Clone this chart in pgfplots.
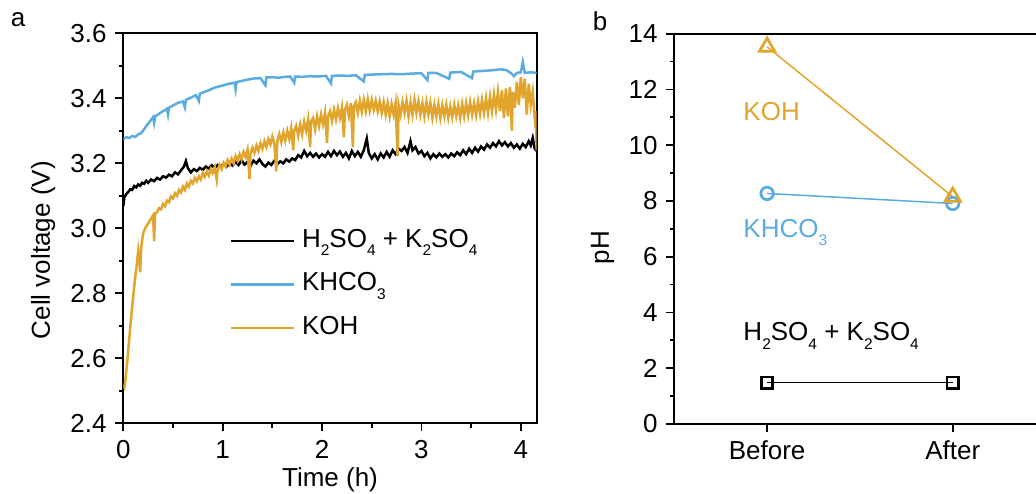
\documentclass[border=0pt]{standalone}
\usepackage{fontspec}
\setmainfont{Liberation Sans}
\usepackage{pgfplots}
\pgfplotsset{compat=1.18}
\definecolor{kohc}{HTML}{E1A42D}
\definecolor{khcoc}{HTML}{5AACE0}

\newcommand{\fs}{\fontsize{10.4}{12.5}\selectfont}
% subscripts set low and small, as in the figure
\newcommand{\sub}[1]{\raisebox{-3.4pt}{\fontsize{6.2}{7}\selectfont #1}}

\pgfplotsset{
  panel/.style={
    scale only axis,
    axis line style={line width=0.7pt},
    tick style={line width=0.7pt, black},
    tick align=outside,
    tick pos=left,
    major tick length=3.2pt,
    minor tick length=1.8pt,
    tick label style={font=\fs},
    label style={font=\fs},
    /pgf/number format/assume math mode=true,
  },
}

\begin{document}
\begin{tikzpicture}

% ---------- a ----------
\begin{axis}[panel,
  at={(49.32pt,-13.32pt)}, anchor=north west,
  width=165.36pt, height=156pt,
  xmin=0, xmax=4.16, ymin=2.4, ymax=3.6,
  xtick={0,1,2,3,4},
  ytick={2.4,2.6,2.8,3.0,3.2,3.4,3.6},
  minor x tick num=1, minor y tick num=1,
  yticklabel style={/pgf/number format/.cd, fixed, fixed zerofill, precision=1},
  xlabel={Time (h)}, ylabel={Cell voltage (V)},
  xlabel style={at={(axis description cs:0.5,-0.145)}, anchor=center},
  ylabel style={at={(axis description cs:-0.194,0.444)}, anchor=center},
  legend cell align=left,
  legend image code/.code={\draw[#1] (0pt,0pt) -- (25pt,0pt);},
  legend style={draw=none, fill=none, font=\fs, inner sep=0pt,
    at={(axis description cs:0.257,0.501)}, anchor=north west,
    row sep=7.4pt, column sep=2.8pt,
    nodes={inner sep=0pt, text height=7.6pt, text depth=2.4pt}},
]
\addplot[black, line width=1pt] table {
0.00 3.068
0.01 3.095
0.03 3.105
0.05 3.112
0.07 3.120
0.09 3.118
0.11 3.130
0.13 3.126
0.15 3.135
0.17 3.131
0.19 3.140
0.21 3.137
0.23 3.146
0.25 3.140
0.28 3.150
0.31 3.145
0.34 3.155
0.37 3.150
0.40 3.160
0.43 3.156
0.46 3.165
0.49 3.160
0.52 3.172
0.55 3.166
0.58 3.178
0.61 3.190
0.63 3.207
0.65 3.185
0.68 3.172
0.71 3.182
0.74 3.176
0.77 3.186
0.80 3.180
0.83 3.190
0.86 3.184
0.89 3.194
0.92 3.186
0.95 3.195
0.98 3.188
1.01 3.198
1.04 3.190
1.07 3.200
1.10 3.193
1.13 3.205
1.16 3.195
1.19 3.210
1.22 3.196
1.25 3.204
1.28 3.192
1.31 3.208
1.34 3.200
1.37 3.212
1.40 3.198
1.43 3.190
1.46 3.202
1.49 3.195
1.52 3.208
1.55 3.198
1.58 3.206
1.61 3.200
1.64 3.212
1.67 3.205
1.70 3.215
1.73 3.210
1.76 3.225
1.79 3.218
1.82 3.238
1.85 3.222
1.88 3.232
1.91 3.220
1.94 3.230
1.97 3.218
2.00 3.228
2.03 3.220
2.06 3.235
2.09 3.222
2.12 3.238
2.15 3.225
2.18 3.236
2.21 3.220
2.24 3.232
2.27 3.215
2.30 3.238
2.33 3.222
2.36 3.235
2.39 3.220
2.42 3.240
2.45 3.276
2.47 3.232
2.50 3.215
2.53 3.228
2.56 3.212
2.59 3.230
2.62 3.218
2.65 3.235
2.68 3.220
2.71 3.240
2.74 3.228
2.77 3.245
2.80 3.238
2.83 3.250
2.86 3.232
2.89 3.268
2.91 3.240
2.94 3.250
2.97 3.230
3.00 3.238
3.03 3.222
3.06 3.232
3.09 3.215
3.12 3.228
3.15 3.218
3.18 3.230
3.21 3.220
3.24 3.228
3.27 3.218
3.30 3.230
3.33 3.222
3.36 3.234
3.39 3.225
3.42 3.240
3.45 3.228
3.48 3.245
3.51 3.232
3.54 3.248
3.57 3.236
3.60 3.252
3.63 3.242
3.66 3.258
3.69 3.248
3.72 3.262
3.75 3.252
3.78 3.268
3.81 3.255
3.84 3.265
3.87 3.252
3.90 3.262
3.93 3.248
3.96 3.258
3.99 3.245
4.02 3.260
4.05 3.250
4.08 3.268
4.10 3.255
4.12 3.278
4.14 3.245
4.16 3.238
};
\addlegendentry{H\sub{2}SO\sub{4} + K\sub{2}SO\sub{4}}
\addplot[khcoc, line width=1pt] table {
0.00 3.275
0.03 3.280
0.06 3.278
0.09 3.284
0.12 3.281
0.15 3.289
0.18 3.293
0.21 3.305
0.24 3.318
0.27 3.330
0.30 3.342
0.31 3.325
0.32 3.345
0.35 3.350
0.38 3.357
0.41 3.362
0.44 3.368
0.45 3.350
0.46 3.371
0.50 3.378
0.55 3.386
0.60 3.390
0.62 3.372
0.63 3.395
0.68 3.402
0.73 3.410
0.76 3.392
0.77 3.414
0.82 3.420
0.87 3.426
0.92 3.433
0.97 3.437
1.02 3.441
1.07 3.445
1.12 3.448
1.13 3.428
1.14 3.450
1.20 3.454
1.26 3.458
1.32 3.461
1.38 3.462
1.43 3.440
1.44 3.464
1.50 3.465
1.56 3.463
1.62 3.466
1.68 3.467
1.72 3.448
1.73 3.467
1.80 3.466
1.88 3.468
1.96 3.467
2.04 3.469
2.09 3.446
2.10 3.469
2.18 3.470
2.26 3.469
2.34 3.471
2.42 3.452
2.43 3.472
2.50 3.473
2.60 3.474
2.70 3.475
2.80 3.474
2.90 3.476
3.00 3.477
3.06 3.456
3.07 3.478
3.15 3.478
3.28 3.460
3.29 3.479
3.40 3.481
3.51 3.462
3.52 3.482
3.60 3.484
3.70 3.486
3.80 3.489
3.85 3.487
3.90 3.478
3.93 3.468
3.96 3.478
4.00 3.480
4.02 3.512
4.04 3.478
4.10 3.480
4.16 3.478
};
\addlegendentry{KHCO\sub{3}}
\addplot[kohc, line width=1pt] table {
0.00 2.515
0.01 2.510
0.02 2.530
0.04 2.590
0.06 2.660
0.08 2.730
0.10 2.790
0.12 2.850
0.14 2.900
0.15 2.930
0.16 2.900
0.17 2.865
0.18 2.940
0.20 2.985
0.22 3.000
0.24 3.010
0.26 3.020
0.28 3.030
0.30 3.040
0.31 2.960
0.32 3.045
0.34 3.050
0.36 3.062
0.38 3.058
0.40 3.075
0.42 3.068
0.44 3.085
0.46 3.080
0.48 3.098
0.50 3.092
0.52 3.108
0.54 3.100
0.56 3.118
0.58 3.110
0.60 3.128
0.62 3.118
0.64 3.138
0.66 3.128
0.68 3.146
0.70 3.138
0.72 3.155
0.74 3.145
0.76 3.160
0.78 3.150
0.80 3.170
0.82 3.158
0.84 3.175
0.86 3.162
0.88 3.182
0.90 3.170
0.92 3.188
0.94 3.150
0.95 3.180
0.97 3.195
0.99 3.182
1.01 3.202
1.03 3.190
1.05 3.210
1.07 3.196
1.09 3.215
1.11 3.200
1.13 3.222
1.15 3.208
1.17 3.228
1.19 3.212
1.21 3.235
1.23 3.220
1.25 3.242
1.27 3.152
1.28 3.230
1.30 3.248
1.32 3.232
1.34 3.255
1.36 3.238
1.38 3.262
1.40 3.245
1.42 3.268
1.44 3.250
1.46 3.275
1.48 3.258
1.50 3.282
1.52 3.260
1.54 3.175
1.55 3.270
1.57 3.290
1.59 3.265
1.61 3.295
1.63 3.270
1.65 3.300
1.67 3.275
1.69 3.308
1.71 3.240
1.72 3.300
1.74 3.315
1.76 3.285
1.78 3.320
1.80 3.290
1.82 3.328
1.84 3.300
1.86 3.335
1.88 3.250
1.89 3.330
1.91 3.340
1.93 3.305
1.95 3.345
1.97 3.315
1.99 3.350
2.01 3.320
2.03 3.355
2.05 3.262
2.06 3.345
2.08 3.360
2.10 3.330
2.12 3.365
2.14 3.335
2.16 3.370
2.18 3.340
2.20 3.372
2.22 3.280
2.23 3.365
2.25 3.380
2.27 3.345
2.29 3.385
2.31 3.250
2.32 3.375
2.34 3.388
2.36 3.355
2.38 3.392
2.40 3.358
2.42 3.395
2.44 3.360
2.46 3.398
2.48 3.362
2.50 3.395
2.52 3.365
2.54 3.392
2.56 3.360
2.58 3.390
2.60 3.355
2.62 3.388
2.64 3.350
2.66 3.385
2.68 3.345
2.70 3.382
2.72 3.350
2.74 3.385
2.76 3.222
2.77 3.380
2.79 3.350
2.81 3.388
2.83 3.355
2.85 3.392
2.87 3.345
2.89 3.388
2.91 3.350
2.93 3.395
2.95 3.355
2.97 3.390
2.99 3.350
3.01 3.385
3.03 3.345
3.05 3.388
3.07 3.350
3.09 3.385
3.11 3.340
3.13 3.380
3.15 3.345
3.17 3.382
3.19 3.340
3.21 3.378
3.23 3.345
3.25 3.380
3.27 3.340
3.29 3.375
3.31 3.342
3.33 3.380
3.35 3.345
3.37 3.378
3.39 3.340
3.41 3.382
3.43 3.345
3.45 3.385
3.47 3.348
3.49 3.388
3.51 3.350
3.53 3.385
3.55 3.348
3.57 3.390
3.59 3.352
3.61 3.395
3.63 3.355
3.65 3.400
3.67 3.355
3.69 3.405
3.71 3.360
3.73 3.412
3.75 3.365
3.77 3.420
3.79 3.360
3.81 3.425
3.83 3.340
3.85 3.430
3.87 3.345
3.89 3.435
3.91 3.300
3.92 3.420
3.94 3.370
3.96 3.450
3.98 3.380
4.00 3.465
4.02 3.400
4.04 3.460
4.06 3.350
4.08 3.445
4.10 3.380
4.12 3.420
4.14 3.340
4.15 3.360
4.16 3.240
};
\addlegendentry{KOH}
\end{axis}

% ---------- b ----------
\begin{axis}[panel,
  at={(269.72pt,-13.48pt)}, anchor=north west,
  width=155.9pt, height=156.12pt,
  axis lines*=left,
  xmin=-0.5, xmax=1.6, ymin=0, ymax=14,
  xtick={0,1}, xticklabels={Before,After},
  ytick={0,2,4,6,8,10,12,14},
  minor y tick num=1,
  ylabel={pH},
  ylabel style={at={(axis description cs:-0.184,0.452)}, anchor=center},
  clip=false,
]
\draw[line width=0.7pt] (rel axis cs:0,1) -- (rel axis cs:1,1);
\addplot[black, line width=0.6pt, mark=square, mark size=2.3pt,
  mark options={line width=1.1pt}] coordinates {(0,1.48) (1,1.48)};
\addplot[khcoc, line width=0.6pt, mark=o, mark size=2.5pt,
  mark options={line width=1.1pt}] coordinates {(0,8.27) (1,7.91)};
\addplot[kohc, line width=0.6pt, mark=triangle, mark size=3.5pt,
  mark options={line width=1.1pt}] coordinates {(0,13.53) (1,8.15)};
\node[anchor=base west, inner sep=0pt, text=kohc, font=\fs] at (axis cs:-0.13,10.9) {KOH};
\node[anchor=base west, inner sep=0pt, text=khcoc, font=\fs] at (axis cs:-0.13,6.7) {KHCO\sub{3}};
\node[anchor=base west, inner sep=0pt, font=\fs] at (axis cs:-0.13,2.99) {H\sub{2}SO\sub{4} + K\sub{2}SO\sub{4}};
\end{axis}

\node[font=\fs] at (7.2pt,-8pt) {a};
\node[font=\fs] at (240pt,-8.4pt) {b};

\pgfresetboundingbox
\useasboundingbox (0pt,0pt) rectangle (414.4pt,-197.6pt);
\end{tikzpicture}
\end{document}
